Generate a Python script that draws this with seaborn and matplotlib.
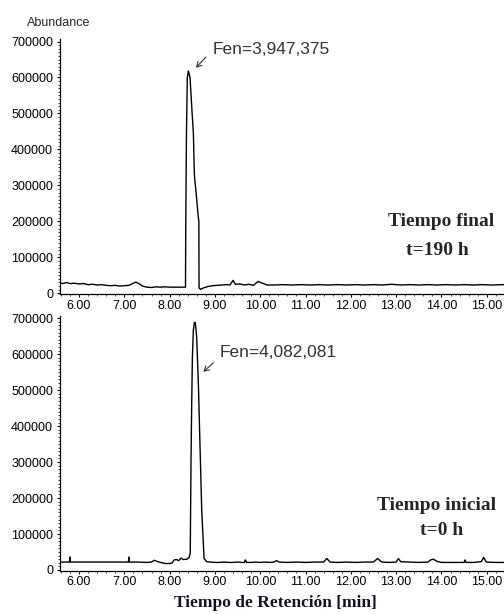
#!/usr/bin/env python3
# -*- coding: utf-8 -*-

# import modules
import matplotlib
matplotlib.use("Agg")
import matplotlib.pyplot as plt
from matplotlib.ticker import MultipleLocator
import seaborn as sns

sns.set_style("ticks")
plt.rcParams['font.family'] = ['Liberation Sans', 'DejaVu Sans']

# chromatogram: (retention time [min], abundance)
final_190h = [
    (5.58, 29000), (5.65, 27000), (5.72, 30000), (5.80, 27000), (5.90, 28000),
    (6.00, 26000), (6.10, 27000), (6.20, 24000), (6.30, 25000), (6.40, 23000),
    (6.50, 24000), (6.60, 22000), (6.70, 21000), (6.80, 22000), (6.90, 20000),
    (7.00, 21000), (7.10, 22000), (7.18, 27000), (7.25, 31000), (7.32, 27000),
    (7.40, 20000), (7.50, 17000), (7.60, 16000), (7.70, 18000), (7.80, 17000),
    (7.90, 18000), (8.00, 17000), (8.10, 17000), (8.20, 17000), (8.30, 17000),
    (8.35, 17000), (8.355, 170000), (8.37, 430000), (8.39, 600000),
    (8.414, 618000), (8.43, 610000), (8.45, 600000), (8.487, 520000),
    (8.524, 445000), (8.546, 330000), (8.598, 260000), (8.634, 210000),
    (8.645, 200000), (8.649, 15000), (8.68, 11000), (8.75, 15000),
    (8.85, 19000), (8.95, 21000), (9.05, 22000), (9.15, 23000), (9.25, 24000),
    (9.33, 23000), (9.40, 36000), (9.45, 25000), (9.55, 26000), (9.65, 23000),
    (9.75, 25000), (9.85, 22000), (9.95, 33000), (10.05, 28000), (10.15, 23000),
    (10.30, 23000), (10.50, 24000), (10.70, 23000), (10.90, 24000), (11.10, 23000),
    (11.30, 24000), (11.50, 23000), (11.70, 24000), (11.90, 23000), (12.10, 24000),
    (12.30, 23000), (12.50, 24000), (12.70, 23000), (12.90, 25000), (13.10, 23000),
    (13.30, 24000), (13.50, 23000), (13.70, 24000), (13.90, 23000), (14.10, 24000),
    (14.30, 23000), (14.50, 24000), (14.70, 23000), (14.90, 24000), (15.10, 23000),
    (15.38, 24000),
]

initial_0h = [
    (5.58, 22000), (5.70, 22000), (5.79, 22000), (5.80, 36000), (5.81, 22000),
    (5.95, 22000), (6.10, 22000), (6.30, 22000), (6.50, 22000), (6.70, 22000),
    (6.90, 22000), (7.09, 22000), (7.10, 36000), (7.11, 22000), (7.30, 22000),
    (7.50, 21000), (7.60, 22000), (7.66, 27000), (7.72, 24000), (7.80, 21000),
    (7.90, 18000), (8.00, 18000), (8.05, 19000), (8.10, 28000), (8.15, 29000),
    (8.20, 26000), (8.25, 33000), (8.30, 29000), (8.38, 30000), (8.43, 35000),
    (8.455, 47000), (8.465, 200000), (8.472, 305000), (8.487, 464000),
    (8.502, 592000), (8.524, 667000), (8.546, 688000), (8.568, 688000),
    (8.598, 644000), (8.634, 519000), (8.671, 342000), (8.708, 167000),
    (8.76, 32000), (8.818, 23000), (8.90, 22000), (9.00, 21000), (9.10, 21000),
    (9.20, 22000), (9.30, 21000), (9.40, 21000), (9.50, 22000), (9.60, 21000),
    (9.65, 21000), (9.67, 28000), (9.70, 21000), (9.80, 21000), (9.90, 22000),
    (10.00, 21000), (10.10, 22000), (10.20, 21000), (10.30, 22000), (10.36, 26000),
    (10.42, 22000), (10.60, 21000), (10.80, 22000), (11.00, 21000), (11.20, 22000),
    (11.40, 22000), (11.47, 32000), (11.54, 22000), (11.70, 21000), (11.90, 22000),
    (12.10, 21000), (12.30, 22000), (12.50, 22000), (12.59, 32000), (12.68, 22000),
    (12.85, 21000), (13.00, 22000), (13.05, 32000), (13.10, 23000), (13.30, 22000),
    (13.50, 21000), (13.70, 22000), (13.76, 28000), (13.82, 30000), (13.90, 24000),
    (14.00, 21000), (14.20, 21000), (14.40, 21000), (14.50, 21000), (14.52, 28000),
    (14.54, 21000), (14.70, 21000), (14.88, 23000), (14.93, 35000), (14.99, 22000),
    (15.20, 21000), (15.38, 21000),
]

x_ticks = [6, 7, 8, 9, 10, 11, 12, 13, 14, 15]
x_labels = ["6.00", "7.00", "8.00", "9.00", "10.00", "11.00", "12.00", "13.00", "14.00", "15.00"]
y_ticks = [0, 100000, 200000, 300000, 400000, 500000, 600000, 700000]
y_labels = ["0", "100000", "200000", "300000", "400000", "500000", "600000", "700000"]

panels = [
    dict(data=final_190h, bottom_px=294.0, fen="Fen=3,947,375",
         fen_xy=(8.94, 677000), arrow_tail=(8.80, 657000), arrow_head=(8.58, 627000),
         label1="Tiempo final", label1_xy=(14.0, 199000),
         label2="t=190 h", label2_xy=(13.92, 120000)),
    dict(data=initial_0h, bottom_px=570.7, fen="Fen=4,082,081",
         fen_xy=(9.10, 606000), arrow_tail=(8.965, 576000), arrow_head=(8.744, 551000),
         label1="Tiempo inicial", label1_xy=(13.90, 180000),
         label2="t=0 h", label2_xy=(14.0, 109000)),
]

W, H = 504, 614
fig = plt.figure(figsize=(W / 100, H / 100), dpi=100)
fig.patch.set_facecolor('white')

serif = ['Liberation Serif', 'DejaVu Serif']

for p in panels:
    ax = fig.add_axes([60 / W, 1 - p['bottom_px'] / H, 444 / W, 255 / H])
    t = [a for a, b in p['data']]
    y = [b for a, b in p['data']]
    sns.lineplot(x=t, y=y, ax=ax, color='black', linewidth=1.0,
                 estimator=None, sort=False)

    ax.set_xlim(5.58, 15.38)
    ax.set_ylim(-2000, 707000)
    ax.set_xticks(x_ticks)
    ax.set_xticklabels(x_labels)
    ax.set_yticks(y_ticks)
    ax.set_yticklabels(y_labels)
    ax.xaxis.set_minor_locator(MultipleLocator(0.2))
    ax.yaxis.set_minor_locator(MultipleLocator(10000))
    ax.tick_params(which='major', length=2.5, width=0.8, labelsize=9,
                   colors='black', pad=2.5)
    ax.tick_params(axis='x', which='major', pad=1.5)
    ax.tick_params(which='minor', length=1.4, width=0.6)
    ax.set_xlabel('')
    ax.set_ylabel('')
    sns.despine(ax=ax)
    for s in ['left', 'bottom']:
        ax.spines[s].set_linewidth(0.9)
        ax.spines[s].set_color('black')
    ax.set_facecolor('white')

    # peak annotation
    ax.text(p['fen_xy'][0], p['fen_xy'][1], p['fen'], fontsize=12.5,
            color='#333333', ha='left', va='center')
    ax.annotate('', xy=p['arrow_head'], xytext=p['arrow_tail'],
                arrowprops=dict(arrowstyle='->,head_length=0.35,head_width=0.2',
                                color='#333333', lw=0.8,
                                shrinkA=0, shrinkB=0))

    ax.text(*p['label1_xy'], p['label1'], family=serif, fontweight='bold',
            fontsize=14, ha='center', va='center')
    ax.text(*p['label2_xy'], p['label2'], family=serif, fontweight='bold',
            fontsize=14, ha='center', va='center')

fig.text(58.5 / W, 1 - 23 / H, "Abundance", fontsize=9, ha='center', va='center')
fig.text(275 / W, 1 - 603 / H, "Tiempo de Retención [min]", family=serif,
         fontweight='bold', fontsize=12.5, color='#10102a', ha='center', va='center')

fig.savefig('out.png', dpi=100)
